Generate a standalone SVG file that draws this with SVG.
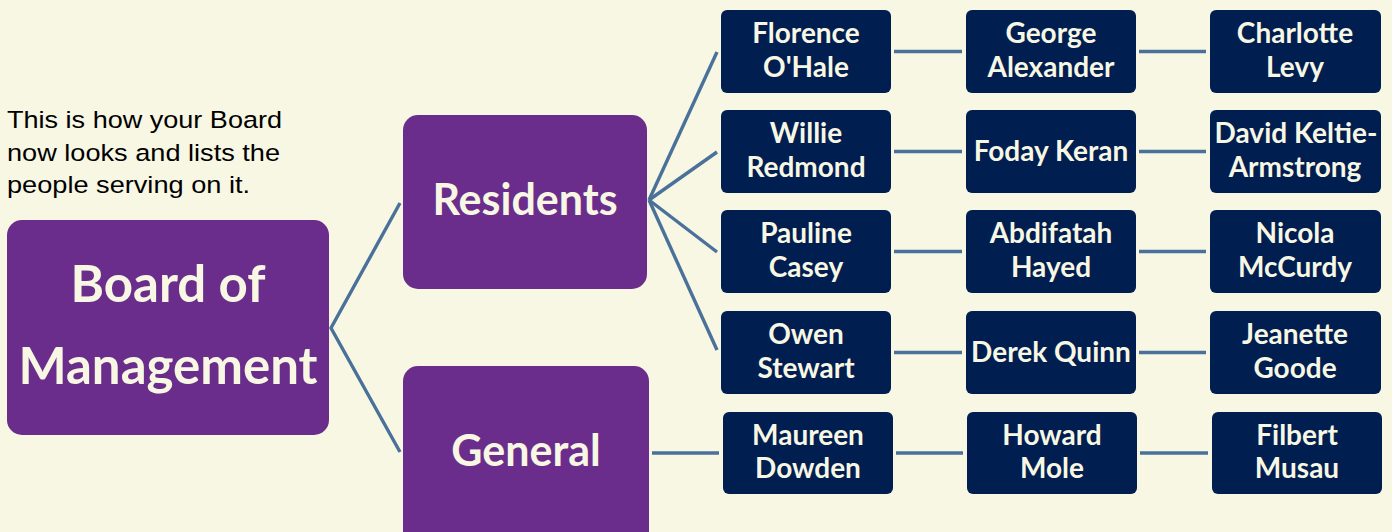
<svg xmlns="http://www.w3.org/2000/svg" width="1392" height="532" viewBox="0 0 1392 532">
<style>
.bg{fill:#F7F7E4}
.p{fill:#6B2D8C}
.n{fill:#001E50}
.c{stroke:#4A7199;stroke-width:3.4;fill:none}
.t{font-family:Lato,"Open Sans",sans-serif;font-weight:bold;fill:#F7F7E4;text-anchor:middle}
.nt{font-size:28px}
.intro{font-family:"Liberation Sans",Arial,sans-serif;font-size:24.5px;fill:#000}
</style>
<rect class="bg" x="0" y="0" width="1392" height="532"/>
<g id="intro">
<text class="intro" x="7" y="128" textLength="275" lengthAdjust="spacingAndGlyphs">This is how your Board</text>
<text class="intro" x="7" y="161" textLength="273" lengthAdjust="spacingAndGlyphs">now looks and lists the</text>
<text class="intro" x="7" y="193" textLength="243" lengthAdjust="spacingAndGlyphs">people serving on it.</text>
</g>
<g id="connectors">
<polyline class="c" points="400,203 331,328 400,452"/>
<line class="c" x1="649" y1="200" x2="717" y2="52"/>
<line class="c" x1="649" y1="200" x2="717" y2="152"/>
<line class="c" x1="649" y1="200" x2="717" y2="252"/>
<line class="c" x1="649" y1="200" x2="717" y2="350"/>
<line class="c" x1="652" y1="453" x2="719" y2="453"/>
<line class="c" x1="894" y1="51.5" x2="962" y2="51.5"/>
<line class="c" x1="1139" y1="51.5" x2="1206" y2="51.5"/>
<line class="c" x1="894" y1="151.5" x2="962" y2="151.5"/>
<line class="c" x1="1139" y1="151.5" x2="1206" y2="151.5"/>
<line class="c" x1="894" y1="251.5" x2="962" y2="251.5"/>
<line class="c" x1="1139" y1="251.5" x2="1206" y2="251.5"/>
<line class="c" x1="894" y1="352.5" x2="962" y2="352.5"/>
<line class="c" x1="1139" y1="352.5" x2="1206" y2="352.5"/>
<line class="c" x1="896" y1="453" x2="963" y2="453"/>
<line class="c" x1="1140" y1="453" x2="1208" y2="453"/>
</g>
<g id="board">
<rect class="p" x="7" y="220" width="322" height="215" rx="15"/>
<text class="t" x="168" y="302" font-size="51">Board of</text>
<text class="t" x="168" y="384" font-size="51">Management</text>
</g>
<g id="residents">
<rect class="p" x="403" y="115" width="244" height="174" rx="15"/>
<text class="t" x="525" y="215" font-size="43">Residents</text>
</g>
<g id="general">
<rect class="p" x="403" y="366" width="246" height="180" rx="15"/>
<text class="t" x="526" y="466" font-size="43">General</text>
</g>
<g id="florence"><rect class="n" x="721" y="10" width="170" height="83" rx="6"/><text class="t nt" x="806" y="43">Florence</text><text class="t nt" x="806" y="77">O'Hale</text></g>
<g id="george"><rect class="n" x="966" y="10" width="170" height="83" rx="6"/><text class="t nt" x="1051" y="43">George</text><text class="t nt" x="1051" y="77">Alexander</text></g>
<g id="charlotte"><rect class="n" x="1210" y="10" width="171" height="83" rx="6"/><text class="t nt" x="1295" y="43">Charlotte</text><text class="t nt" x="1295" y="77">Levy</text></g>
<g id="willie"><rect class="n" x="721" y="110" width="170" height="83" rx="6"/><text class="t nt" x="806" y="143">Willie</text><text class="t nt" x="806" y="177">Redmond</text></g>
<g id="foday"><rect class="n" x="966" y="110" width="170" height="83" rx="6"/><text class="t nt" x="1051" y="161">Foday Keran</text></g>
<g id="david"><rect class="n" x="1210" y="110" width="171" height="83" rx="6"/><text class="t nt" x="1296" y="143">David Keltie-</text><text class="t nt" x="1295" y="177">Armstrong</text></g>
<g id="pauline"><rect class="n" x="721" y="210" width="170" height="83" rx="6"/><text class="t nt" x="806" y="243">Pauline</text><text class="t nt" x="806" y="277">Casey</text></g>
<g id="abdifatah"><rect class="n" x="966" y="210" width="170" height="83" rx="6"/><text class="t nt" x="1051" y="243">Abdifatah</text><text class="t nt" x="1051" y="277">Hayed</text></g>
<g id="nicola"><rect class="n" x="1210" y="210" width="171" height="83" rx="6"/><text class="t nt" x="1295" y="243">Nicola</text><text class="t nt" x="1295" y="277">McCurdy</text></g>
<g id="owen"><rect class="n" x="721" y="311" width="170" height="83" rx="6"/><text class="t nt" x="806" y="344">Owen</text><text class="t nt" x="806" y="378">Stewart</text></g>
<g id="derek"><rect class="n" x="966" y="311" width="170" height="83" rx="6"/><text class="t nt" x="1051" y="362">Derek Quinn</text></g>
<g id="jeanette"><rect class="n" x="1210" y="311" width="171" height="83" rx="6"/><text class="t nt" x="1295" y="344">Jeanette</text><text class="t nt" x="1295" y="378">Goode</text></g>
<g id="maureen"><rect class="n" x="723" y="412" width="170" height="82" rx="6"/><text class="t nt" x="808" y="445">Maureen</text><text class="t nt" x="808" y="478">Dowden</text></g>
<g id="howard"><rect class="n" x="967" y="412" width="170" height="82" rx="6"/><text class="t nt" x="1052" y="445">Howard</text><text class="t nt" x="1052" y="478">Mole</text></g>
<g id="filbert"><rect class="n" x="1212" y="412" width="170" height="82" rx="6"/><text class="t nt" x="1297" y="445">Filbert</text><text class="t nt" x="1297" y="478">Musau</text></g>
</svg>
